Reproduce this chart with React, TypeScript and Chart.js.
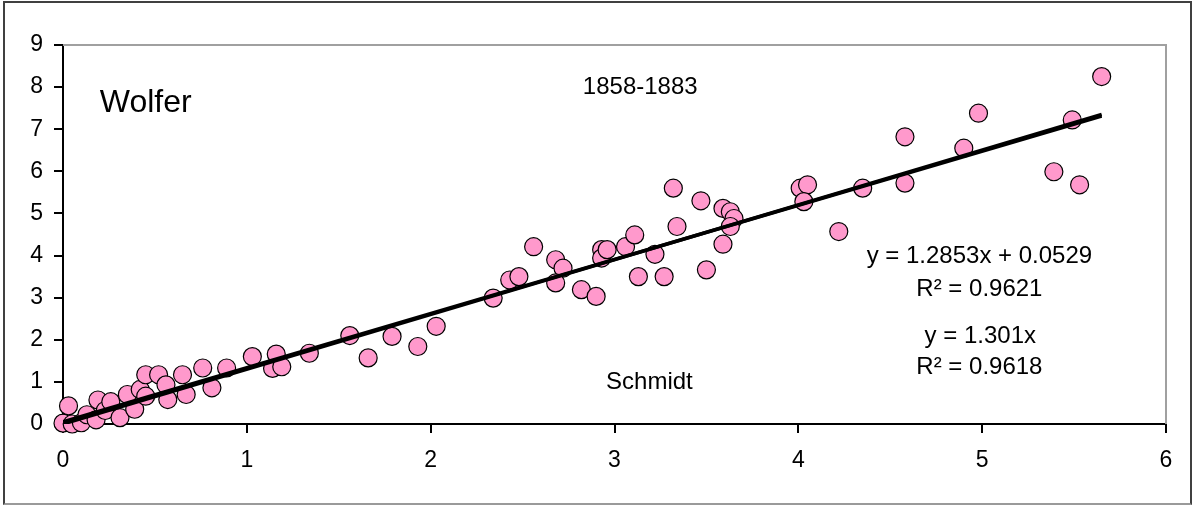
import React, { useEffect, useRef } from 'react';
import { Chart, registerables } from 'chart.js';

Chart.register(...registerables);

// Schmidt (x) vs Wolfer (y), 1858-1883
const schmidtX = [
  0.0, 0.03, 0.05, 0.1, 0.13, 0.18, 0.19, 0.23, 0.26, 0.31, 0.35, 0.39, 0.42, 0.45, 0.45,
  0.52, 0.56, 0.57, 0.65, 0.67, 0.76, 0.81, 0.89, 1.03, 1.14, 1.16, 1.19, 1.34, 1.56, 1.66,
  1.79, 1.93, 2.03, 2.34, 2.43, 2.48, 2.56, 2.68, 2.72, 2.68, 2.82, 2.9, 2.93, 2.93, 2.96,
  3.06, 3.11, 3.13, 3.22, 3.27, 3.32, 3.34, 3.47, 3.5, 3.59, 3.59, 3.63, 3.65, 3.63, 4.01,
  4.05, 4.03, 4.22, 4.35, 4.58, 4.58, 4.9, 4.98, 5.39, 5.49, 5.53, 5.65,
];
const wolferY = [
  0.02, 0.43, 0.0, 0.03, 0.22, 0.1, 0.57, 0.32, 0.53, 0.15, 0.7, 0.35, 0.82, 0.66, 1.17,
  1.17, 0.93, 0.58, 1.17, 0.7, 1.33, 0.86, 1.33, 1.6, 1.32, 1.66, 1.36, 1.68, 2.1, 1.57,
  2.08, 1.84, 2.32, 2.99, 3.42, 3.5, 4.21, 3.9, 3.7, 3.35, 3.19, 3.03, 4.14, 3.94, 4.14,
  4.21, 4.49, 3.5, 4.03, 3.5, 5.6, 4.69, 5.3, 3.66, 5.12, 4.27, 5.04, 4.88, 4.69, 5.6,
  5.68, 5.28, 4.57, 5.6, 6.82, 5.72, 6.55, 7.38, 5.99, 7.22, 5.68, 8.25,
];
const xTickValues = [0, 1, 2, 3, 4, 5, 6];
const yTickValues = [0, 1, 2, 3, 4, 5, 6, 7, 8, 9];

// trend lines (from the chart's labels)
const fitSlope = 1.2853;
const fitIntercept = 0.0529;
const originSlope = 1.301;

// text labels placed at data coordinates
const labelTexts = ['Wolfer', '1858-1883', 'Schmidt', 'y = 1.2853x + 0.0529', 'R\u00B2 = 0.9621', 'y = 1.301x', 'R\u00B2 = 0.9618'];
const labelX = [0.2, 3.14, 3.19, 4.985, 4.985, 4.99, 4.985];
const labelY = [7.62, 8.0, 0.98, 3.99, 3.19, 2.08, 1.34];
const labelSize = [32, 24, 24, 24, 24, 24, 24];
const labelAlign: CanvasTextAlign[] = ['left', 'center', 'center', 'center', 'center', 'center', 'center'];

const FONT = '"Liberation Sans", Arial, sans-serif';

export default function App() {
  const ref = useRef<HTMLCanvasElement | null>(null);

  useEffect(() => {
    document.body.style.margin = '0';
    const canvas = ref.current;
    if (!canvas) return;

    const points = schmidtX.map((x, i) => ({ x, y: wolferY[i] }));
    const xMin = Math.min(...schmidtX);
    const xMax = Math.max(...schmidtX);
    const fitLine = [xMin, xMax].map((x) => ({ x, y: fitSlope * x + fitIntercept }));
    const originLine = [xMin, xMax].map((x) => ({ x, y: originSlope * x }));

    const plotFrame = {
      id: 'plotFrame',
      beforeDatasetsDraw(chart: any) {
        const { ctx, chartArea } = chart;
        ctx.save();
        ctx.strokeStyle = '#a0a0a0';
        ctx.lineWidth = 2;
        ctx.beginPath();
        ctx.moveTo(chartArea.left, chartArea.top);
        ctx.lineTo(chartArea.right, chartArea.top);
        ctx.lineTo(chartArea.right, chartArea.bottom);
        ctx.stroke();
        ctx.restore();
      },
    };

    const textLabels = {
      id: 'textLabels',
      afterDatasetsDraw(chart: any) {
        const { ctx } = chart;
        const xs = chart.scales.x;
        const ys = chart.scales.y;
        ctx.save();
        ctx.fillStyle = '#000';
        ctx.textBaseline = 'middle';
        labelTexts.forEach((t, i) => {
          ctx.font = `${labelSize[i]}px ${FONT}`;
          ctx.textAlign = labelAlign[i];
          ctx.fillText(t, xs.getPixelForValue(labelX[i]), ys.getPixelForValue(labelY[i]));
        });
        ctx.restore();
      },
    };

    const chart = new Chart(canvas, {
      type: 'scatter',
      data: {
        datasets: [
          {
            type: 'line',
            data: fitLine,
            borderColor: '#000',
            borderWidth: 3.5,
            pointRadius: 0,
            fill: false,
            order: 0,
          } as any,
          {
            type: 'line',
            data: originLine,
            borderColor: '#000',
            borderWidth: 3.5,
            pointRadius: 0,
            fill: false,
            order: 0,
          } as any,
          {
            data: points,
            backgroundColor: '#FF99CC',
            borderColor: '#000',
            borderWidth: 1.2,
            pointRadius: 9,
            pointHoverRadius: 9,
            clip: false,
            order: 1,
          } as any,
        ],
      },
      options: {
        animation: false,
        responsive: false,
        maintainAspectRatio: false,
        events: [],
        layout: { padding: { left: 0, top: 45, right: 27, bottom: 0 } },
        plugins: {
          legend: { display: false },
          tooltip: { enabled: false },
          title: { display: false },
        },
        scales: {
          x: {
            type: 'linear',
            min: 0,
            max: 6,
            afterFit: (s: any) => {
              s.height = 81;
            },
            afterBuildTicks: (s: any) => {
              s.ticks = xTickValues.map((v) => ({ value: v }));
            },
            ticks: {
              color: '#000',
              font: { family: FONT, size: 23 },
              padding: 14,
              maxRotation: 0,
              callback: (v: any) => String(v),
            },
            grid: {
              drawOnChartArea: false,
              drawTicks: true,
              tickLength: 9,
              color: '#000',
              lineWidth: 2,
            },
            border: { display: true, color: '#000', width: 2 },
          },
          y: {
            type: 'linear',
            min: 0,
            max: 9,
            afterFit: (s: any) => {
              s.width = 63;
            },
            afterBuildTicks: (s: any) => {
              s.ticks = yTickValues.map((v) => ({ value: v }));
            },
            ticks: {
              color: '#000',
              font: { family: FONT, size: 23 },
              padding: 11,
              callback: (v: any) => String(v),
            },
            grid: {
              drawOnChartArea: false,
              drawTicks: true,
              tickLength: 9,
              color: '#000',
              lineWidth: 2,
            },
            border: { display: true, color: '#000', width: 2 },
          },
        },
      },
      plugins: [plotFrame, textLabels],
    });

    return () => chart.destroy();
  }, []);

  return (
    <div style={{ position: 'relative', width: 1193, height: 505, background: '#fff' }}>
      <canvas ref={ref} width={1193} height={505} style={{ position: 'absolute', left: 0, top: 0 }} />
      <div
        style={{
          position: 'absolute',
          left: 3,
          top: 1,
          width: 1185,
          height: 500,
          borderTop: '2px solid #404040',
          borderLeft: '2px solid #404040',
          borderRight: '2px solid #404040',
          borderBottom: '2px solid #9a9a9a',
          pointerEvents: 'none',
        }}
      />
    </div>
  );
}
